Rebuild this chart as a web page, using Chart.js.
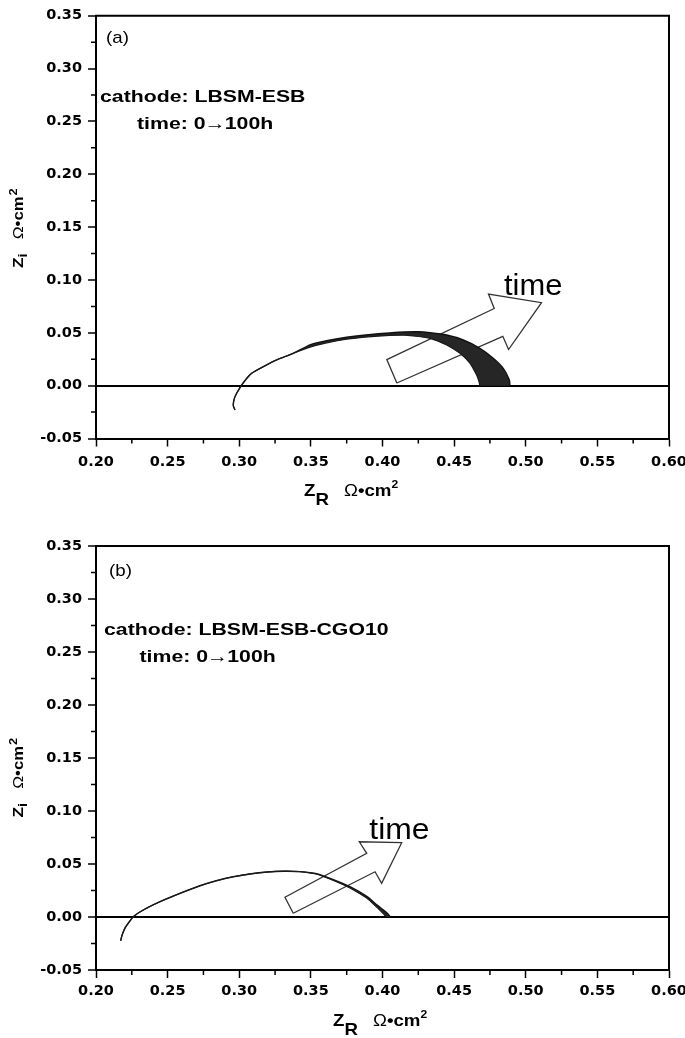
<!DOCTYPE html>
<html>
<head>
<meta charset="utf-8">
<script src="https://cdn.jsdelivr.net/npm/chart.js@4.4.1/dist/chart.umd.min.js"></script>
<style>
body { margin: 0; background: #fff; }
.box { position: relative; width: 685px; height: 519px; }
</style>
</head>
<body>
<div class="box"><canvas id="chartA"></canvas></div>
<div class="box"><canvas id="chartB"></canvas></div>
<script>
// axis ticks
const xTicks = [0.20, 0.25, 0.30, 0.35, 0.40, 0.45, 0.50, 0.55, 0.60];
const yTicks = [-0.05, 0.00, 0.05, 0.10, 0.15, 0.20, 0.25, 0.30, 0.35];

// (a) LBSM-ESB : first (0h) and last (100h) spectrum
const aZr0h = [0.2970, 0.2958, 0.2966, 0.2982, 0.3000, 0.3017, 0.3050, 0.3087, 0.3168, 0.3261, 0.3377,
	0.3494, 0.3610, 0.3750, 0.3900, 0.4050, 0.4150, 0.4215, 0.4332, 0.4448, 0.4541, 0.4611, 0.4657, 0.4673, 0.4680];
const aZi0h = [-0.0230, -0.0185, -0.0120, -0.0072, -0.0030, 0.0006, 0.0065, 0.0117, 0.0179, 0.0243, 0.0306,
	0.0365, 0.0405, 0.0440, 0.0462, 0.0475, 0.0478, 0.0470, 0.0448, 0.0385, 0.0306, 0.0211, 0.0100, 0.0040, 0.0000];
const aZr100h = [0.2970, 0.2958, 0.2966, 0.2982, 0.3000, 0.3017, 0.3050, 0.3087, 0.3168, 0.3261, 0.3377,
	0.3494, 0.3610, 0.3750, 0.3900, 0.4050, 0.4150, 0.4250, 0.4332, 0.4448, 0.4564, 0.4680, 0.4773, 0.4843, 0.4885, 0.4890];
const aZi100h = [-0.0230, -0.0185, -0.0120, -0.0072, -0.0030, 0.0006, 0.0065, 0.0117, 0.0179, 0.0243, 0.0306,
	0.0385, 0.0425, 0.0458, 0.0482, 0.0498, 0.0507, 0.0510, 0.0501, 0.0479, 0.0432, 0.0353, 0.0259, 0.0164, 0.0055, 0.0000];
// "time" arrow outline
const aArrowZr = [0.410, 0.403, 0.478, 0.474, 0.511, 0.488, 0.484, 0.410];
const aArrowZi = [0.0025, 0.0247, 0.0730, 0.0867, 0.0785, 0.0342, 0.0467, 0.0025];

// (b) LBSM-ESB-CGO10
const bZr0h = [0.2172, 0.2180, 0.2191, 0.2205, 0.2225, 0.2260, 0.2330, 0.2447, 0.2586, 0.2726, 0.2840, 0.2958, 0.3075, 0.3192, 0.3308, 0.3424,
	0.3541, 0.3657, 0.3773, 0.3890, 0.3955, 0.4005, 0.4025];
const bZi0h = [-0.0224, -0.0180, -0.0139, -0.0098, -0.0059, 0.0003, 0.0066, 0.0144, 0.0223, 0.0295, 0.0342, 0.0380, 0.0406, 0.0424, 0.0432, 0.0428,
	0.0403, 0.0345, 0.0274, 0.0178, 0.0098, 0.0032, 0.0000];
const bZr100h = [0.2172, 0.2180, 0.2191, 0.2205, 0.2225, 0.2260, 0.2330, 0.2447, 0.2586, 0.2726, 0.2840, 0.2958, 0.3075, 0.3192, 0.3308, 0.3424,
	0.3541, 0.3657, 0.3773, 0.3890, 0.3965, 0.4030, 0.4055];
const bZi100h = [-0.0224, -0.0180, -0.0139, -0.0098, -0.0059, 0.0003, 0.0066, 0.0144, 0.0223, 0.0295, 0.0342, 0.0380, 0.0406, 0.0424, 0.0432, 0.0428,
	0.0409, 0.0353, 0.0286, 0.0194, 0.0110, 0.0040, 0.0000];
const bArrowZr = [0.3377, 0.3319, 0.3890, 0.3838, 0.4134, 0.3994, 0.3948, 0.3377];
const bArrowZi = [0.0035, 0.0186, 0.0601, 0.0710, 0.0701, 0.0318, 0.0427, 0.0035];

const SANS = '"Liberation Sans", Arial, sans-serif';

function toPoints(xs, ys) {
	return xs.map((x, i) => ({x: x, y: ys[i]}));
}

// text made of several pieces (sub/superscripts), stretched a bit wide like the figure
function drawRuns(ctx, x, y, parts, sx, rot) {
	ctx.save();
	ctx.translate(x, y);
	if (rot) ctx.rotate(rot);
	ctx.fillStyle = '#000';
	ctx.textAlign = 'left';
	ctx.textBaseline = 'alphabetic';
	let cx = 0;
	for (const p of parts) {
		ctx.font = p.font;
		ctx.save();
		ctx.translate(cx, p.dy || 0);
		ctx.scale(sx, 1);
		ctx.fillText(p.text, 0, 0);
		ctx.restore();
		cx += ctx.measureText(p.text).width * sx + (p.gap || 0);
	}
	ctx.restore();
}

function xTitleParts() {
	return [
		{text: 'Z', font: 'bold 17px ' + SANS},
		{text: 'R', font: 'bold 17px ' + SANS, dy: 9, gap: 15},
		{text: 'Ω', font: '17px ' + SANS},
		{text: '•cm', font: 'bold 17px ' + SANS},
		{text: '2', font: 'bold 11px ' + SANS, dy: -8}
	];
}
function yTitleParts() {
	return [
		{text: 'Z', font: 'bold 15px ' + SANS},
		{text: 'i', font: 'bold 13px ' + SANS, dy: 4, gap: 14},
		{text: 'Ω', font: '15px ' + SANS},
		{text: '•cm', font: 'bold 14.5px ' + SANS, gap: 1},
		{text: '2', font: 'bold 11px ' + SANS, dy: -6}
	];
}

// frame, minor ticks, titles and labels
const decoPlugin = {
	id: 'deco',
	afterDraw(chart, args, opts) {
		const ctx = chart.ctx;
		const a = chart.chartArea;
		const xs = chart.scales.x, ys = chart.scales.y;
		ctx.save();
		ctx.strokeStyle = '#000';
		ctx.lineWidth = 2;
		ctx.beginPath();
		ctx.moveTo(a.left - 1, a.top);
		ctx.lineTo(a.right, a.top);
		ctx.lineTo(a.right, a.bottom);
		ctx.stroke();

		ctx.lineWidth = 1.5;
		ctx.beginPath();
		for (let i = 0; i < xTicks.length - 1; i++) {
			const px = xs.getPixelForValue((xTicks[i] + xTicks[i + 1]) / 2);
			ctx.moveTo(px, a.bottom);
			ctx.lineTo(px, a.bottom + 5);
		}
		for (let i = 0; i < yTicks.length - 1; i++) {
			const py = ys.getPixelForValue((yTicks[i] + yTicks[i + 1]) / 2);
			ctx.moveTo(a.left, py);
			ctx.lineTo(a.left - 5, py);
		}
		ctx.stroke();
		ctx.restore();

		drawRuns(ctx, opts.xTitle[0], opts.xTitle[1], xTitleParts(), 1.1, 0);
		drawRuns(ctx, opts.yTitle[0], opts.yTitle[1], yTitleParts(), 1.15, -Math.PI / 2);

		drawRuns(ctx, opts.tag[0], opts.tag[1], [{text: opts.tag[2], font: '17px ' + SANS}], 1.1, 0);
		drawRuns(ctx, opts.cathode[0], opts.cathode[1], [{text: opts.cathode[2], font: 'bold 17px ' + SANS}], 1.25, 0);
		drawRuns(ctx, opts.hours[0], opts.hours[1], [
			{text: 'time: 0', font: 'bold 17px ' + SANS, gap: -1},
			{text: '→', font: 'bold 17px ' + SANS, gap: -1},
			{text: '100h', font: 'bold 17px ' + SANS}
		], 1.25, 0);
		drawRuns(ctx, opts.time[0], opts.time[1], [{text: 'time', font: opts.time[2] + 'px ' + SANS}], opts.time[3], 0);
	}
};

function makeChart(id, c) {
	const band = toPoints(c.zr100, c.zi100).concat(toPoints(c.zr0, c.zi0).reverse());
	return new Chart(document.getElementById(id), {
		type: 'scatter',
		data: {
			datasets: [
				{
					label: '0h',
					data: toPoints(c.zr0, c.zi0),
					showLine: true,
					borderColor: '#1a1a1a',
					borderWidth: 1.2,
					pointRadius: 0,
					tension: 0.2,
					order: 1
				},
				{
					label: '100h',
					data: toPoints(c.zr100, c.zi100),
					showLine: true,
					borderColor: '#111',
					borderWidth: 1.4,
					pointRadius: 0,
					tension: 0.2,
					order: 1
				},
				{
					label: 'band',
					data: band,
					showLine: true,
					fill: 'shape',
					backgroundColor: '#262626',
					borderWidth: 0,
					pointRadius: 0,
					tension: 0,
					order: 2
				},
				{
					label: 'arrow',
					data: toPoints(c.arrowZr, c.arrowZi),
					showLine: true,
					borderColor: '#333',
					borderWidth: 1.3,
					pointRadius: 0,
					tension: 0,
					order: 3
				}
			]
		},
		options: {
			responsive: true,
			maintainAspectRatio: false,
			animation: false,
			events: [],
			layout: {
				padding: {top: c.top, right: 16, left: 0, bottom: 0}
			},
			plugins: {
				legend: {display: false},
				tooltip: {enabled: false},
				deco: c.deco
			},
			scales: {
				x: {
					type: 'linear',
					min: 0.2,
					max: 0.6,
					afterBuildTicks: s => { s.ticks = xTicks.map(v => ({value: v})); },
					afterFit: s => { s.height = c.xHeight; s.paddingLeft = 0; s.paddingRight = 0; },
					border: {display: true, color: '#000', width: 2},
					grid: {
						drawOnChartArea: false,
						drawTicks: true,
						tickLength: 8,
						tickWidth: 1.5,
						tickColor: '#000'
					},
					ticks: {
						color: '#000',
						padding: c.xPad,
						maxRotation: 0,
						font: {family: '"DejaVu Sans", sans-serif', weight: 'bold', size: 14.5},
						callback: v => Number(v).toFixed(2)
					}
				},
				y: {
					type: 'linear',
					min: -0.05,
					max: 0.35,
					afterBuildTicks: s => { s.ticks = yTicks.map(v => ({value: v})); },
					afterFit: s => { s.width = 96; s.paddingTop = 0; s.paddingBottom = 0; },
					border: {display: true, color: '#000', width: 2},
					grid: {
						drawOnChartArea: true,
						color: g => (g.tick && Math.abs(g.tick.value) < 1e-9) ? '#000' : 'rgba(0,0,0,0)',
						lineWidth: 2,
						drawTicks: true,
						tickLength: 8,
						tickWidth: 1.5,
						tickColor: '#000'
					},
					ticks: {
						color: '#000',
						padding: 6,
						font: {family: '"DejaVu Sans", sans-serif', weight: 'bold', size: 14.5},
						callback: v => Number(v).toFixed(2)
					}
				}
			}
		},
		plugins: [decoPlugin]
	});
}

makeChart('chartA', {
	zr0: aZr0h, zi0: aZi0h, zr100: aZr100h, zi100: aZi100h,
	arrowZr: aArrowZr, arrowZi: aArrowZi,
	top: 15.7, xHeight: 80.5, xPad: 7,
	deco: {
		xTitle: [304, 496],
		yTitle: [22.5, 268],
		tag: [106, 43, '(a)'],
		cathode: [100, 102, 'cathode: LBSM-ESB'],
		hours: [137, 129],
		time: [504, 295, 30, 1.03]
	}
});

makeChart('chartB', {
	zr0: bZr0h, zi0: bZi0h, zr100: bZr100h, zi100: bZi100h,
	arrowZr: bArrowZr, arrowZi: bArrowZi,
	top: 27, xHeight: 68, xPad: 5,
	deco: {
		xTitle: [333, 507],
		yTitle: [22.5, 298.5],
		tag: [109, 57, '(b)'],
		cathode: [104, 116, 'cathode: LBSM-ESB-CGO10'],
		hours: [139.5, 142.7],
		time: [369.3, 320.3, 29, 1.1]
	}
});
</script>
</body>
</html>
